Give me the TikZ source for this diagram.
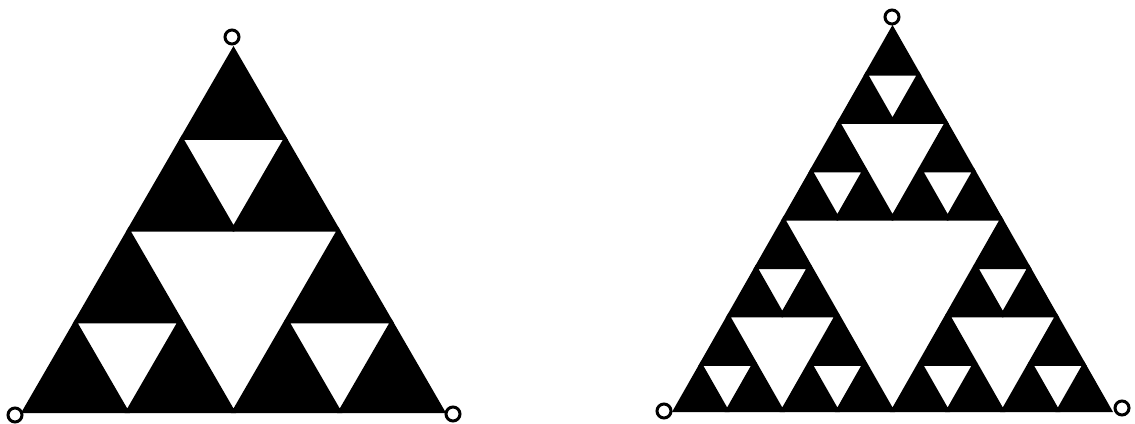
\documentclass[tikz,border=0pt]{standalone}
\usepackage{tikz}
\usetikzlibrary{positioning}

% one hole in the unit triangle (0,0)-(1,0)-(0.5,1), then the three corners again
\newcommand\sierhole[1]{%
  \filldraw[hole] (0.25,0.5) -- (0.75,0.5) -- (0.5,0) -- cycle;
  \ifnum#1>1
    \pgfmathtruncatemacro\subdepth{#1-1}%
    \begin{scope}[scale=0.5]\sierhole{\subdepth}\end{scope}
    \begin{scope}[shift={(0.5,0)},scale=0.5]\sierhole{\subdepth}\end{scope}
    \begin{scope}[shift={(0.25,0.5)},scale=0.5]\sierhole{\subdepth}\end{scope}
  \fi}

\begin{document}
\begin{tikzpicture}[vtx/.style={circle,draw=black,line width=0.06cm,fill=white,inner sep=0pt,minimum size=0.28cm},
  hole/.style={fill=white,draw=black,line width=0.09cm,line join=round}]
\useasboundingbox (0,0) rectangle (22.7,8.46);
% left: two levels
\begin{scope}[shift={(0.42,0.20)},xscale=8.50,yscale=7.34]
  \fill[black] (0,0) -- (1,0) -- (0.5,1) -- cycle;
  \clip (0,0) -- (1,0) -- (0.5,1) -- cycle;
  \sierhole{2}
\end{scope}
\node[vtx] (lleft) at (0.30,0.16) {};
\node[vtx] (lright) at (9.06,0.18) {};
\node[vtx] (ltop) at (4.64,7.72) {};
% right: three levels
\begin{scope}[shift={(13.44,0.22)},xscale=8.82,yscale=7.74]
  \fill[black] (0,0) -- (1,0) -- (0.5,1) -- cycle;
  \clip (0,0) -- (1,0) -- (0.5,1) -- cycle;
  \sierhole{3}
\end{scope}
\node[vtx] (rleft) at (13.28,0.24) {};
\node[vtx] (rright) at (22.44,0.30) {};
\node[vtx] (rtop) at (17.84,8.12) {};
\end{tikzpicture}
\end{document}
